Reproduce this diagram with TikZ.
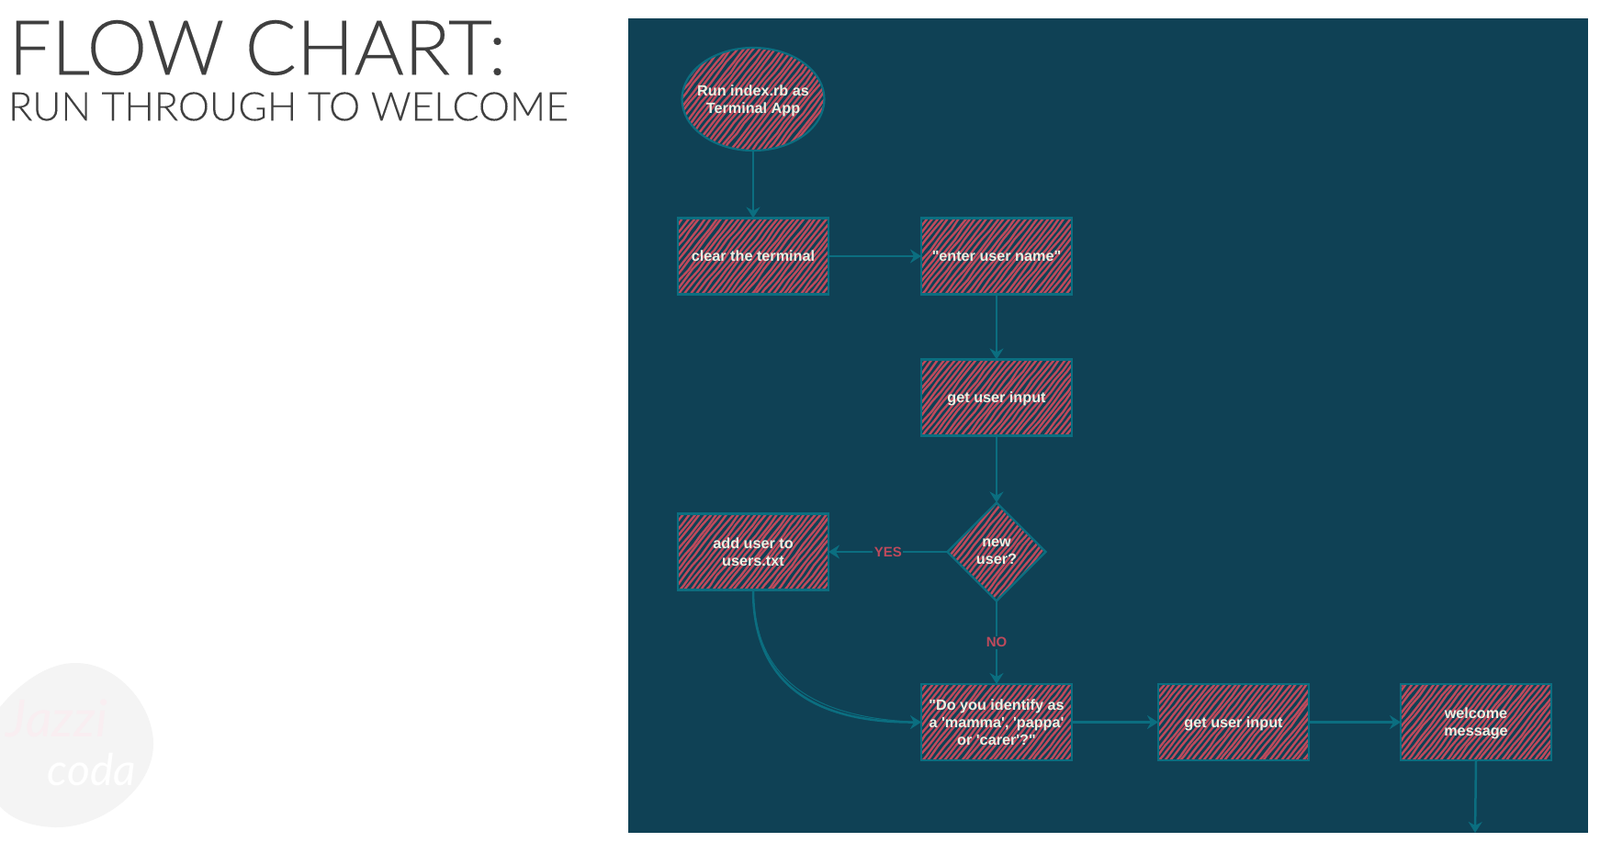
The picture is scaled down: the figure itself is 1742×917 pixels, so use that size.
\documentclass[tikz,border=0pt]{standalone}
\usepackage{fontspec}
\newfontfamily\nodefont{Liberation Sans}
\newfontfamily\titlefont[FakeBold=0.25]{Lato Light}
\newfontfamily\logofont{Lato}
\usetikzlibrary{shapes.geometric,arrows.meta,calc,decorations.pathmorphing}
\definecolor{panelc}{HTML}{0F4155}
\definecolor{edgec}{HTML}{0B6E80}
\definecolor{hatchc}{HTML}{BE4A5C}
\definecolor{textc}{HTML}{E8F0E2}
\definecolor{inkc}{HTML}{3F3F3F}
\definecolor{blobc}{HTML}{F4F4F4}
\definecolor{logopink}{HTML}{F9EEF1}
\tikzset{
  x=1pt,y=-1pt,
  hatched/.style={
    draw=edgec,line width=2.2pt,inner sep=0pt,outer sep=0pt,text=textc,text depth=-1pt,
    align=center,font=\nodefont\fontsize{16.2}{19}\selectfont\bfseries,
    path picture={
      \foreach \i in {-150,-144,...,150}{
        \draw[hatchc,line width=2.4pt,decorate,
              decoration={random steps,segment length=14pt,amplitude=0.7pt}]
          ($(path picture bounding box.center)+({\i-55+0.8*rand},70)$) -- ++(110,-140);
      }
    }},
  boxnode/.style={hatched,rectangle,minimum width=164pt,minimum height=83pt},
  startnode/.style={hatched,ellipse,inner xsep=-9pt,minimum width=155pt,minimum height=112pt},
  decisionnode/.style={hatched,diamond,aspect=1,text depth=-4pt,minimum width=107pt,minimum height=107pt},
  link/.style={draw=edgec,line width=2.5pt,-{Stealth[length=12pt,width=15pt,inset=4pt]}},
  edgelabel/.style={fill=panelc,text=hatchc,inner sep=1.5pt,font=\nodefont\fontsize{15}{15}\selectfont\bfseries},
}
\begin{document}
\begin{tikzpicture}
\useasboundingbox (0,0) rectangle (1742,917);
\fill[white] (0,0) rectangle (1742,917);
% title
\node[anchor=west,inner sep=0pt,text=inkc,font=\titlefont\fontsize{83}{83}\selectfont] (title) at (9,52) {FLOW CHART:};
\node[anchor=west,inner sep=0pt,text=inkc,font=\titlefont\fontsize{43}{43}\selectfont] (subtitle) at (9,116) {RUN THROUGH TO WELCOME};
% logo
\fill[blobc] (0,770) .. controls (25,740) and (55,722) .. (82,722)
  .. controls (130,722) and (167,770) .. (167,810)
  .. controls (167,860) and (110,902) .. (60,901)
  .. controls (30,900) and (10,890) .. (0,878) -- cycle;
\node[inner sep=0pt,text=logopink,font=\logofont\itshape\fontsize{56}{56}\selectfont] (logoa) at (62,782) {Jazzi};
\node[inner sep=0pt,text=white,font=\logofont\itshape\fontsize{48}{48}\selectfont] (logob) at (100,838) {coda};
% panel
\node[fill=panelc,inner sep=0pt,outer sep=0pt,minimum width=1045pt,minimum height=887pt] (panel) at (1206.5,463.5) {};
% nodes
\node[startnode] (run) at (820,108) {Run index.rb as\\Terminal App};
\node[boxnode] (clear) at (820,279) {clear the terminal};
\node[boxnode] (enter) at (1085,279) {"enter user name"};
\node[boxnode] (input) at (1085,433) {get user input};
\node[decisionnode] (new) at (1085,601) {new\\user?};
\node[boxnode] (add) at (820,601) {add user to\\users.txt};
\node[boxnode] (identify) at (1085,786.5) {"Do you identify as\\a 'mamma', 'pappa'\\or 'carer'?"};
\node[boxnode] (inputb) at (1343,786.5) {get user input};
\node[boxnode] (welcome) at (1607,786.5) {welcome\\message};
\coordinate (offpage) at (1606,907);
% connectors
\draw[link] (run.south) -- (clear.north);
\draw[link] (clear.east) -- (enter.west);
\draw[link] (enter.south) -- (input.north);
\draw[link] (input.south) -- (new.north);
\draw[link] (new.west) -- node[edgelabel] (yes) {YES} (add.east);
\draw[link] (new.south) -- node[edgelabel] (no) {NO} (identify.north);
\draw[link] (add.south) .. controls (820,740) and (880,787) .. (identify.west);
\draw[draw=edgec,line width=1pt] (add.south) .. controls (821,736) and (880,783) .. (identify.west);
\draw[link] (identify.east) -- (inputb.west);
\draw[link] (inputb.east) -- (welcome.west);
\draw[link] (welcome.south) -- (offpage);
\end{tikzpicture}
\end{document}
